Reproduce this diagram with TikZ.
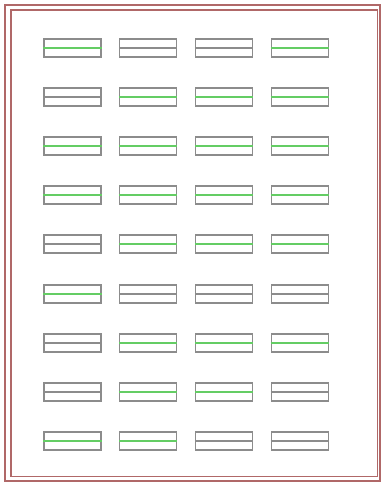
\documentclass[tikz,border=0pt]{standalone}
\usepackage{tikz}
\usetikzlibrary{positioning}
\definecolor{frameRed}{RGB}{176,104,104}
\definecolor{slotGray}{RGB}{140,140,140}
\definecolor{mid0}{RGB}{140,140,140}
\definecolor{mid1}{RGB}{100,205,100}
\begin{document}
\begin{tikzpicture}
[x=0.02cm, y=-0.02cm,
% STYLES
% The frame style is used for the page border
frame/.style={draw=frameRed, line width=0.6pt},
% The slot style is used to draw each label box
slot/.style={rectangle, draw=slotGray, line width=0.6pt, inner sep=0pt, minimum width=1.14cm, minimum height=0.36cm},
% The divider style is used for the middle line of a box
divider/.style={line width=1.1pt}]
\useasboundingbox (0,0) rectangle (381,483);
% Draw the page border
\draw[frame] (5,5) rectangle (380,481);
\draw[frame] (11,10) rectangle (377.5,476.5);
%%%%%%%%%%%%%%%
% Draw the boxes, one row at a time (1 = green divider)
\foreach \row/\y/\a/\b/\c/\d in {1/48/1/0/0/1, 2/97/0/1/1/1, 3/146/1/1/1/1,
                                 4/195/1/1/1/1, 5/244/0/1/1/1, 6/294/1/0/0/0,
                                 7/343/0/1/1/1, 8/392/0/1/1/0, 9/441/1/1/0/0}
  \foreach \col/\g in {1/\a, 2/\b, 3/\c, 4/\d} {
    \node [slot] (box-\row-\col) at ({72.5+75.7*(\col-1)}, \y) {};
    \draw [divider, draw=mid\g] (box-\row-\col.west) -- (box-\row-\col.east);
  }
\end{tikzpicture}
\end{document}
